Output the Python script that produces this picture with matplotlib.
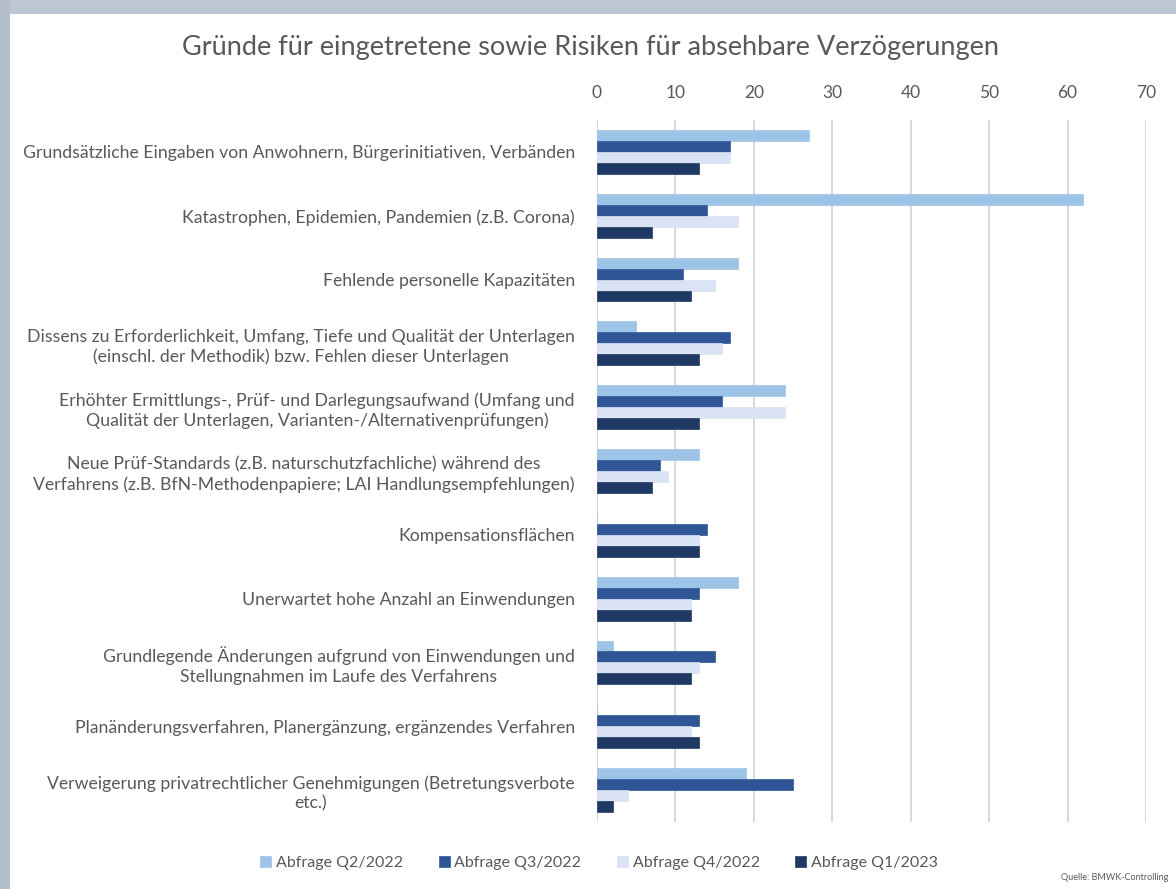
import matplotlib
matplotlib.use("Agg")
import matplotlib.pyplot as plt
import numpy as np
from matplotlib.patches import Rectangle

plt.rcParams['font.family'] = ['Lato', 'DejaVu Sans']

categories = [
    "Grundsätzliche Eingaben von Anwohnern, Bürgerinitiativen, Verbänden",
    "Katastrophen, Epidemien, Pandemien (z.B. Corona)",
    "Fehlende personelle Kapazitäten",
    "Dissens zu Erforderlichkeit, Umfang, Tiefe und Qualität der Unterlagen\n(einschl. der Methodik) bzw. Fehlen dieser Unterlagen",
    "Erhöhter Ermittlungs-, Prüf- und Darlegungsaufwand (Umfang und\nQualität der Unterlagen, Varianten-/Alternativenprüfungen)",
    "Neue Prüf-Standards (z.B. naturschutzfachliche) während des\nVerfahrens (z.B. BfN-Methodenpapiere; LAI Handlungsempfehlungen)",
    "Kompensationsflächen",
    "Unerwartet hohe Anzahl an Einwendungen",
    "Grundlegende Änderungen aufgrund von Einwendungen und\nStellungnahmen im Laufe des Verfahrens",
    "Planänderungsverfahren, Planergänzung, ergänzendes Verfahren",
    "Verweigerung privatrechtlicher Genehmigungen (Betretungsverbote\netc.)",
]
series_names = ["Abfrage Q2/2022", "Abfrage Q3/2022", "Abfrage Q4/2022", "Abfrage Q1/2023"]
q2_2022 = [27, 62, 18, 5, 24, 13, 0, 18, 2, 0, 19]
q3_2022 = [17, 14, 11, 17, 16, 8, 14, 13, 15, 13, 25]
q4_2022 = [17, 18, 15, 16, 24, 9, 13, 12, 13, 12, 4]
q1_2023 = [13, 7, 12, 13, 13, 7, 13, 12, 12, 13, 2]
colors = ["#9DC3E6", "#2F5597", "#DAE3F3", "#203864"]
ticks = [0, 10, 20, 30, 40, 50, 60, 70]

W, H = 1176, 889
fig = plt.figure(figsize=(W / 100, H / 100), dpi=100)
fig.patch.set_facecolor("white")

# frame (screenshot border)
fig.patches.append(Rectangle((0, 1 - 14 / H), 1, 14 / H, transform=fig.transFigure,
                             facecolor="#bcc7d1", edgecolor="none", zorder=0))
fig.patches.append(Rectangle((0, 0), 10 / W, 1, transform=fig.transFigure,
                             facecolor="#b3bfca", edgecolor="none", zorder=0))

ax = fig.add_axes([597 / W, 1 - 822 / H, (1146 - 597) / W, (822 - 120) / H])
n = len(categories)
y = np.arange(n)
h = 0.172
data = [q2_2022, q3_2022, q4_2022, q1_2023]
for k, (vals, col, name) in enumerate(zip(data, colors, series_names)):
    ax.barh(y + (k - 1.5) * h, vals, height=h, color=col, label=name, zorder=3,
            edgecolor=col, linewidth=0.5)

ax.set_xlim(0, 70)
ax.set_ylim(n - 0.5, -0.5)
ax.set_xticks(ticks)
ax.xaxis.tick_top()
ax.tick_params(axis='x', length=0, pad=14, labelsize=12.5, labelcolor="#595959")
ax.set_yticks(y)
ax.set_yticklabels(categories, multialignment='center', linespacing=1.3)
ax.tick_params(axis='y', length=0, pad=16, labelsize=12.7, labelcolor="#595959")
ax.grid(axis='x', color="#d9d9d9", linewidth=1.5, zorder=0)
for s in ax.spines.values():
    s.set_visible(False)

fig.text(591 / W, 1 - 48 / H, "Gründe für eingetretene sowie Risiken für absehbare Verzögerungen",
         ha='center', va='center', fontsize=19.5, color="#595959")

leg = fig.legend(loc='center', bbox_to_anchor=(599 / W, 1 - 863 / H), ncol=4, frameon=False,
                 fontsize=11.5, handlelength=0.7, handleheight=0.7, handletextpad=0.3,
                 columnspacing=2.2)
for t in leg.get_texts():
    t.set_color("#595959")

fig.text(1168 / W, 1 - 877 / H, "Quelle: BMWK-Controlling", ha='right', va='center',
         fontsize=6.5, color="#595959")

fig.savefig("out.png", dpi=100)
